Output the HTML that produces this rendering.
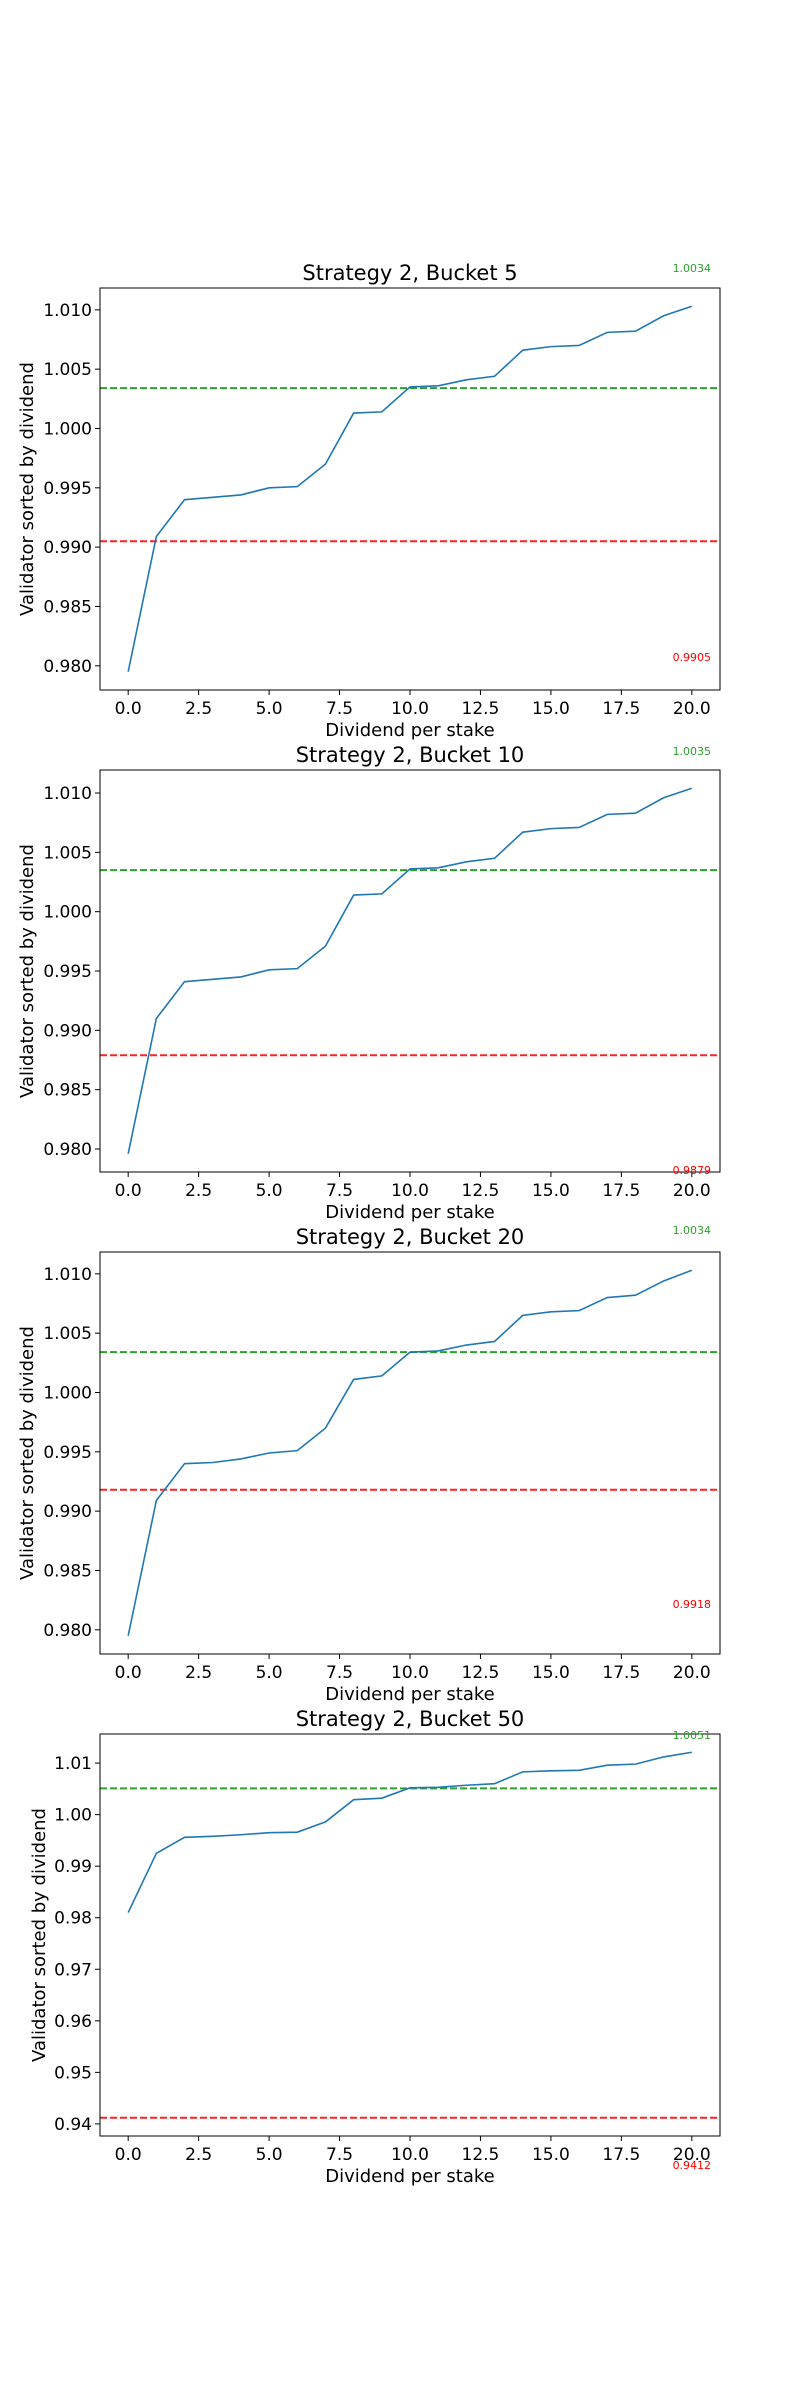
<!DOCTYPE html>
<html><head><meta charset="utf-8">
<style>
body{margin:0;background:#fff;}
svg{display:block;font-family:"DejaVu Sans","Liberation Sans",sans-serif;}
</style></head>
<body>
<svg id="fig" width="800" height="2400" viewBox="0 0 800 2400" xmlns="http://www.w3.org/2000/svg"></svg>
<script>
const categories = [0,1,2,3,4,5,6,7,8,9,10,11,12,13,14,15,16,17,18,19,20];
const xTicks = [0,2.5,5,7.5,10,12.5,15,17.5,20];
const xTickLabels = ["0.0","2.5","5.0","7.5","10.0","12.5","15.0","17.5","20.0"];
const titles = ["Strategy 2, Bucket 5","Strategy 2, Bucket 10","Strategy 2, Bucket 20","Strategy 2, Bucket 50"];
const series1 = [0.9795,0.9909,0.9940,0.9942,0.9944,0.9950,0.9951,0.9970,1.0013,1.0014,1.0035,1.0036,1.0041,1.0044,1.0066,1.0069,1.0070,1.0081,1.0082,1.0095,1.0103];
const series2 = [0.9796,0.9910,0.9941,0.9943,0.9945,0.9951,0.9952,0.9971,1.0014,1.0015,1.0036,1.0037,1.0042,1.0045,1.0067,1.0070,1.0071,1.0082,1.0083,1.0096,1.0104];
const series3 = [0.9795,0.9909,0.9940,0.9941,0.9944,0.9949,0.9951,0.9970,1.0011,1.0014,1.0034,1.0035,1.0040,1.0043,1.0065,1.0068,1.0069,1.0080,1.0082,1.0094,1.0103];
const series4 = [0.9810,0.9925,0.9956,0.9958,0.9961,0.9965,0.9966,0.9986,1.0029,1.0032,1.0052,1.0053,1.0057,1.0060,1.0083,1.0085,1.0086,1.0096,1.0098,1.0112,1.0121];
const greenVals = [1.0034,1.0035,1.0034,1.0051];
const redVals = [0.9905,0.9879,0.9918,0.9412];
const yTicks123 = [0.980,0.985,0.990,0.995,1.000,1.005,1.010];
const yTickLabels123 = ["0.980","0.985","0.990","0.995","1.000","1.005","1.010"];
const yTicks4 = [0.94,0.95,0.96,0.97,0.98,0.99,1.00,1.01];
const yTickLabels4 = ["0.94","0.95","0.96","0.97","0.98","0.99","1.00","1.01"];
const greenLabelY = [268,751,1230,1735];
const redLabelY = [657,1170,1604,2165];

const NS="http://www.w3.org/2000/svg";
const fig=document.getElementById('fig');
function mk(tag,attrs,parent){const e=document.createElementNS(NS,tag);for(const k in attrs)e.setAttribute(k,attrs[k]);(parent||fig).appendChild(e);return e;}

const allSeries=[series1,series2,series3,series4];
const tops=[288,770,1252,1734];
const H=402, L=100, R=720;
allSeries.forEach((s,i)=>{
  const g=mk('g',{});
  
  
  const top=tops[i], bot=top+H;
  const vals=s.concat([greenVals[i],redVals[i]]);
  let lo=Math.min(...vals), hi=Math.max(...vals);
  const m=(hi-lo)*0.05; lo-=m; hi+=m;
  const x=v=>L+(v+1)/22*(R-L);
  const y=v=>bot-(v-lo)/(hi-lo)*H;
  const yt=i<3?yTicks123:yTicks4, ytl=i<3?yTickLabels123:yTickLabels4;
  const gl=mk('line',{x1:L,x2:R,y1:y(greenVals[i]),y2:y(greenVals[i]),stroke:'#2ca02c','stroke-width':2,'stroke-dasharray':'7,3'},g);
  
  
  const rl=mk('line',{x1:L,x2:R,y1:y(redVals[i]),y2:y(redVals[i]),stroke:'#ff2020','stroke-width':2,'stroke-dasharray':'7,3'},g);
  
  
  const pts=s.map((v,k)=>x(categories[k]).toFixed(2)+','+y(v).toFixed(2)).join(' ');
  const pl=mk('polyline',{points:pts,fill:'none',stroke:'#1f77b4','stroke-width':1.6},g);
  
  
  const fr=mk('rect',{x:L,y:top,width:R-L,height:H,fill:'none',stroke:'#000','stroke-width':1},g);
  
  
  xTicks.forEach((t,k)=>{
    mk('line',{x1:x(t),x2:x(t),y1:bot,y2:bot+5,stroke:'#000'},g);
    const tx=mk('text',{x:x(t),y:bot+24,'text-anchor':'middle','font-size':17},g);
    tx.textContent=xTickLabels[k];
    
    
  });
  yt.forEach((t,k)=>{
    mk('line',{x1:L-5,x2:L,y1:y(t),y2:y(t),stroke:'#000'},g);
    const tx=mk('text',{x:L-8,y:y(t)+6,'text-anchor':'end','font-size':17},g);
    tx.textContent=ytl[k];
    
    
  });
  const ti=mk('text',{x:410,y:top-8,'text-anchor':'middle','font-size':21},g);
  ti.textContent=titles[i];
  
  
  const xl=mk('text',{x:410,y:bot+46,'text-anchor':'middle','font-size':18},g);
  xl.textContent='Dividend per stake';
  
  
  const yx=i<3?33:45, yc=top+H/2;
  const yl=mk('text',{x:yx,y:yc,'text-anchor':'middle','font-size':18,transform:`rotate(-90 ${yx} ${yc})`},g);
  yl.textContent='Validator sorted by dividend';
  
  
  const gt=mk('text',{x:x(20),y:greenLabelY[i]+4,'text-anchor':'middle','font-size':11,fill:'#2ca02c'},g);
  gt.textContent=greenVals[i].toFixed(4);
  
  
  const rt=mk('text',{x:x(20),y:redLabelY[i]+4,'text-anchor':'middle','font-size':11,fill:'#ff0000'},g);
  rt.textContent=redVals[i].toFixed(4);
  
  
});
</script>
</body></html>
